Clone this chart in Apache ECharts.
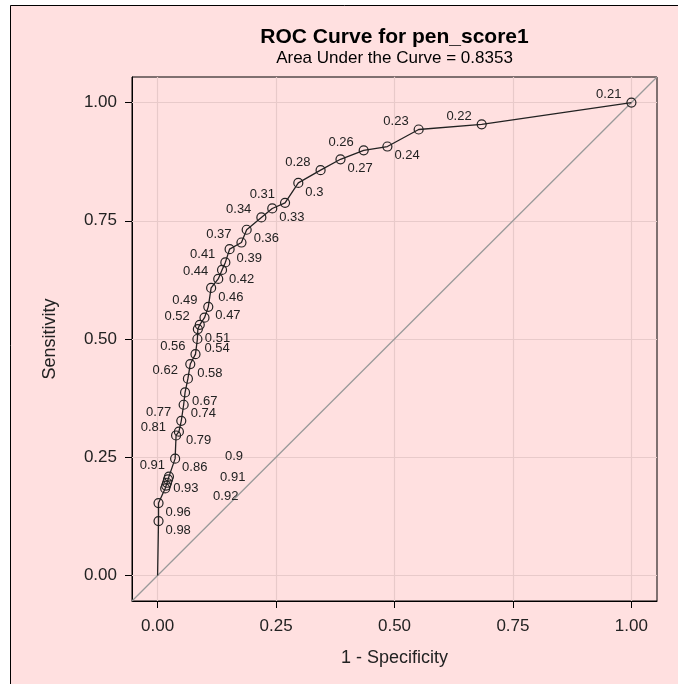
<!DOCTYPE html>
<html><head><meta charset="utf-8">
<script src="https://cdn.jsdelivr.net/npm/echarts@6/dist/echarts.min.js"></script>
<style>html,body{margin:0;padding:0;background:#fff}#c{width:678px;height:684px}</style>
</head><body><div id="c"></div>
<script>
// ---- data ----
const fpr = [1.000,0.684,0.551,0.485,0.435,0.386,0.344,0.297,0.269,0.242,0.219,0.188,0.177,0.152,0.143,0.136,0.128,0.113,0.107,0.099,0.089,0.085,0.084,0.080,0.069,0.064,0.058,0.055,0.050,0.045,0.039,0.037,0.024,0.022,0.020,0.018,0.016,0.002,0.002,0.000];
const tpr = [1.000,0.954,0.943,0.907,0.899,0.880,0.857,0.830,0.788,0.776,0.757,0.731,0.704,0.690,0.662,0.646,0.627,0.608,0.568,0.545,0.530,0.521,0.500,0.468,0.447,0.416,0.387,0.361,0.327,0.304,0.296,0.247,0.209,0.203,0.196,0.190,0.184,0.153,0.115,0.000];
const cutoffs = ['0.21','0.22','0.23','0.24','0.26','0.27','0.28','0.3','0.31','0.33','0.34','0.36','0.37','0.39','0.41','0.42','0.44','0.46','0.47','0.49','0.52','0.51','0.54','0.56','0.58','0.62','0.67','0.74','0.77','0.79','0.81','0.86','0.91','0.9','0.91','0.92','0.93','0.96','0.98','0.9'];
const tickValues = [0, 0.25, 0.5, 0.75, 1];
const tickLabels = ['0.00','0.25','0.50','0.75','1.00'];
const titleText = 'ROC Curve for pen_score1';
const subtitleText = 'Area Under the Curve = 0.8353';
const xTitle = '1 - Specificity';
const yTitle = 'Sensitivity';

// ---- label placement (style, not data) ----
const TL = ['right', -10, -8], BR = ['left', 7, 9];
const labelPlace = [TL,TL,TL,BR,TL,BR,TL,BR,TL,BR,TL,BR,TL,BR,TL,BR,TL,BR,BR,['right',-7,-17],TL,BR,BR,TL,BR,TL,BR,BR,TL,BR,TL,BR,
  ['right',-4,-11],['left',57,-23],['left',53,-5],['left',47,11],['left',8,0],BR,BR,['left',14,-28]];
const hiddenMarker = [39];

const AX_MIN = -0.054, AX_MAX = 1.054;
const PINK = '#ffe0e0';
const FONT = 'Liberation Sans, Arial, sans-serif';
const TXT = '#222';

const chart = echarts.init(document.getElementById('c'), null, {renderer:'canvas'});

const rocData = fpr.map((x,i) => {
  const p = labelPlace[i];
  const d = {value:[x, tpr[i]], label:{show:true, formatter: cutoffs[i], position:'inside', align:p[0], verticalAlign:'middle', offset:[p[1], p[2]]}};
  if (hiddenMarker.includes(i)) d.symbol = 'none';
  return d;
});

const fmt = v => { const i = tickValues.findIndex(t => Math.abs(t - v) < 1e-9); return i >= 0 ? tickLabels[i] : ''; };
const axisCommon = {
  type:'value', min:AX_MIN, max:AX_MAX,
  axisLine:{show:true, onZero:false, lineStyle:{color:'#000', width:1}},
  axisTick:{show:true, inside:false, length:7, lineStyle:{color:'#000'}, customValues: tickValues},
  splitLine:{show:false},
  nameLocation:'middle',
  nameTextStyle:{color:TXT, fontFamily:FONT, fontSize:18}
};

chart.setOption({
  backgroundColor:'#fff',
  animation:false,
  graphic:[
    {type:'rect', z:-10, silent:true, shape:{x:10.5, y:5.5, width:720, height:720}, style:{fill:PINK, stroke:'#000', lineWidth:1}},
    {type:'text', z:10, silent:true, x:394.5, y:37, style:{text:titleText, fontFamily:FONT, fontSize:21, fontWeight:'bold', fill:'#000', align:'center', verticalAlign:'middle'}},
    {type:'text', z:10, silent:true, x:394.5, y:58, style:{text:subtitleText, fontFamily:FONT, fontSize:17, fill:'#000', align:'center', verticalAlign:'middle'}}
  ],
  grid:{left:132, right:21, top:77, bottom:83, show:true, backgroundColor:'transparent', borderColor:'#000', borderWidth:1},
  xAxis:Object.assign({}, axisCommon, {position:'bottom', name:xTitle, nameGap:48,
    axisLabel:{show:true, color:TXT, fontFamily:FONT, fontSize:17, margin:17, customValues:tickValues, formatter:fmt}}),
  yAxis:Object.assign({}, axisCommon, {position:'left', name:yTitle, nameGap:73,
    axisLabel:{show:true, color:TXT, fontFamily:FONT, fontSize:17, margin:15, customValues:tickValues, formatter:fmt}}),
  series:[
    {type:'line', silent:true, symbol:'none', data:[[AX_MIN,AX_MIN],[AX_MAX,AX_MAX]],
      lineStyle:{color:'#9a9a9a', width:1.3}, z:2,
      markLine:{silent:true, symbol:'none', label:{show:false}, lineStyle:{color:'#e8caca', width:1.2, type:'solid'},
        data: tickValues.map(v => ({xAxis:v})).concat(tickValues.map(v => ({yAxis:v}))), z:1}},
    {type:'line', silent:true, symbol:'circle', symbolSize:9, data:rocData, z:5,
      lineStyle:{color:'#222', width:1.3},
      itemStyle:{color:'rgba(0,0,0,0)', borderColor:'#222', borderWidth:1.2},
      label:{color:'#222', fontFamily:FONT, fontSize:13}}
  ]
});
</script></body></html>
